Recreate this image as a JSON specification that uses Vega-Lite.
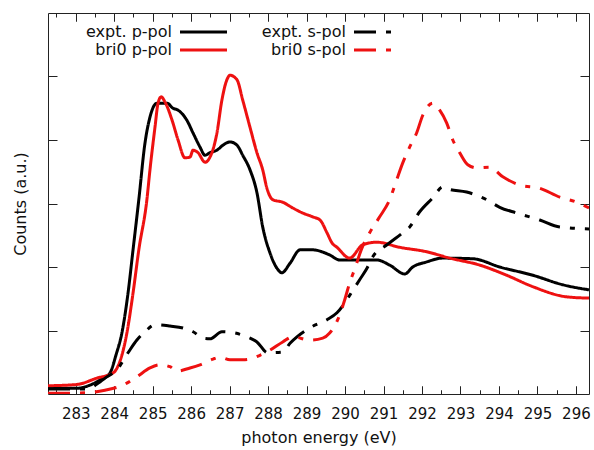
{
  "$schema": "https://vega.github.io/schema/vega-lite/v6.json",
  "width": 541,
  "height": 381,
  "autosize": {"type": "none"},
  "padding": {"left": 48, "top": 13, "right": 5, "bottom": 56},
  "config": {
    "view": {"stroke": null},
    "font": "DejaVu Sans",
    "axis": {"domainColor": "#222", "tickColor": "#222", "tickOpacity": 1, "tickWidth": 1, "labelColor": "#111", "titleColor": "#111", "grid": false, "labelFontWeight": "normal", "titleFontWeight": "normal", "zindex": 1},
    "axisX": {"ticks": true, "tickColor": "#222", "tickOpacity": 1, "tickWidth": 1},
    "axisY": {"ticks": true, "tickColor": "#222", "tickOpacity": 1, "tickWidth": 1}
  },
  "data": {"values": [
    {"series": "expt. p-pol", "energy": 282.28, "counts": 0.09},
    {"series": "expt. p-pol", "energy": 283.03, "counts": 0.09},
    {"series": "expt. p-pol", "energy": 283.37, "counts": 0.14},
    {"series": "expt. p-pol", "energy": 283.63, "counts": 0.22},
    {"series": "expt. p-pol", "energy": 283.89, "counts": 0.33},
    {"series": "expt. p-pol", "energy": 284.05, "counts": 0.62},
    {"series": "expt. p-pol", "energy": 284.2, "counts": 0.96},
    {"series": "expt. p-pol", "energy": 284.36, "counts": 1.59},
    {"series": "expt. p-pol", "energy": 284.49, "counts": 2.27},
    {"series": "expt. p-pol", "energy": 284.64, "counts": 3.06},
    {"series": "expt. p-pol", "energy": 284.8, "counts": 3.95},
    {"series": "expt. p-pol", "energy": 284.93, "counts": 4.36},
    {"series": "expt. p-pol", "energy": 285.11, "counts": 4.58},
    {"series": "expt. p-pol", "energy": 285.37, "counts": 4.58},
    {"series": "expt. p-pol", "energy": 285.53, "counts": 4.5},
    {"series": "expt. p-pol", "energy": 285.66, "counts": 4.47},
    {"series": "expt. p-pol", "energy": 285.89, "counts": 4.31},
    {"series": "expt. p-pol", "energy": 286.05, "counts": 4.11},
    {"series": "expt. p-pol", "energy": 286.23, "counts": 3.89},
    {"series": "expt. p-pol", "energy": 286.36, "counts": 3.76},
    {"series": "expt. p-pol", "energy": 286.49, "counts": 3.8},
    {"series": "expt. p-pol", "energy": 286.67, "counts": 3.84},
    {"series": "expt. p-pol", "energy": 286.83, "counts": 3.92},
    {"series": "expt. p-pol", "energy": 287.01, "counts": 3.97},
    {"series": "expt. p-pol", "energy": 287.19, "counts": 3.92},
    {"series": "expt. p-pol", "energy": 287.34, "counts": 3.76},
    {"series": "expt. p-pol", "energy": 287.53, "counts": 3.53},
    {"series": "expt. p-pol", "energy": 287.71, "counts": 3.17},
    {"series": "expt. p-pol", "energy": 287.86, "counts": 2.63},
    {"series": "expt. p-pol", "energy": 288.05, "counts": 2.22},
    {"series": "expt. p-pol", "energy": 288.23, "counts": 1.98},
    {"series": "expt. p-pol", "energy": 288.36, "counts": 1.91},
    {"series": "expt. p-pol", "energy": 288.57, "counts": 2.06},
    {"series": "expt. p-pol", "energy": 288.83, "counts": 2.27},
    {"series": "expt. p-pol", "energy": 289.16, "counts": 2.27},
    {"series": "expt. p-pol", "energy": 289.6, "counts": 2.19},
    {"series": "expt. p-pol", "energy": 289.86, "counts": 2.11},
    {"series": "expt. p-pol", "energy": 290.2, "counts": 2.11},
    {"series": "expt. p-pol", "energy": 290.83, "counts": 2.11},
    {"series": "expt. p-pol", "energy": 291.16, "counts": 2.03},
    {"series": "expt. p-pol", "energy": 291.55, "counts": 1.89},
    {"series": "expt. p-pol", "energy": 291.76, "counts": 2.0},
    {"series": "expt. p-pol", "energy": 292.12, "counts": 2.08},
    {"series": "expt. p-pol", "energy": 292.54, "counts": 2.14},
    {"series": "expt. p-pol", "energy": 293.32, "counts": 2.13},
    {"series": "expt. p-pol", "energy": 294.02, "counts": 2.0},
    {"series": "expt. p-pol", "energy": 294.88, "counts": 1.87},
    {"series": "expt. p-pol", "energy": 295.66, "counts": 1.72},
    {"series": "expt. p-pol", "energy": 296.34, "counts": 1.64},

    {"series": "bri0 p-pol", "energy": 282.28, "counts": 0.13},
    {"series": "bri0 p-pol", "energy": 283.03, "counts": 0.15},
    {"series": "bri0 p-pol", "energy": 283.55, "counts": 0.25},
    {"series": "bri0 p-pol", "energy": 283.97, "counts": 0.33},
    {"series": "bri0 p-pol", "energy": 284.33, "counts": 0.96},
    {"series": "bri0 p-pol", "energy": 284.49, "counts": 1.59},
    {"series": "bri0 p-pol", "energy": 284.64, "counts": 2.27},
    {"series": "bri0 p-pol", "energy": 284.85, "counts": 3.06},
    {"series": "bri0 p-pol", "energy": 284.93, "counts": 3.53},
    {"series": "bri0 p-pol", "energy": 285.06, "counts": 4.2},
    {"series": "bri0 p-pol", "energy": 285.14, "counts": 4.58},
    {"series": "bri0 p-pol", "energy": 285.22, "counts": 4.68},
    {"series": "bri0 p-pol", "energy": 285.32, "counts": 4.6},
    {"series": "bri0 p-pol", "energy": 285.5, "counts": 4.32},
    {"series": "bri0 p-pol", "energy": 285.66, "counts": 4.0},
    {"series": "bri0 p-pol", "energy": 285.84, "counts": 3.72},
    {"series": "bri0 p-pol", "energy": 285.97, "counts": 3.73},
    {"series": "bri0 p-pol", "energy": 286.05, "counts": 3.84},
    {"series": "bri0 p-pol", "energy": 286.18, "counts": 3.8},
    {"series": "bri0 p-pol", "energy": 286.36, "counts": 3.65},
    {"series": "bri0 p-pol", "energy": 286.49, "counts": 3.73},
    {"series": "bri0 p-pol", "energy": 286.67, "counts": 4.11},
    {"series": "bri0 p-pol", "energy": 286.8, "counts": 4.63},
    {"series": "bri0 p-pol", "energy": 286.93, "counts": 4.95},
    {"series": "bri0 p-pol", "energy": 287.01, "counts": 5.02},
    {"series": "bri0 p-pol", "energy": 287.19, "counts": 4.95},
    {"series": "bri0 p-pol", "energy": 287.34, "counts": 4.63},
    {"series": "bri0 p-pol", "energy": 287.53, "counts": 4.2},
    {"series": "bri0 p-pol", "energy": 287.71, "counts": 3.8},
    {"series": "bri0 p-pol", "energy": 287.86, "counts": 3.53},
    {"series": "bri0 p-pol", "energy": 287.97, "counts": 3.24},
    {"series": "bri0 p-pol", "energy": 288.12, "counts": 3.06},
    {"series": "bri0 p-pol", "energy": 288.38, "counts": 3.02},
    {"series": "bri0 p-pol", "energy": 288.64, "counts": 2.93},
    {"series": "bri0 p-pol", "energy": 288.9, "counts": 2.85},
    {"series": "bri0 p-pol", "energy": 289.16, "counts": 2.79},
    {"series": "bri0 p-pol", "energy": 289.35, "counts": 2.74},
    {"series": "bri0 p-pol", "energy": 289.53, "counts": 2.54},
    {"series": "bri0 p-pol", "energy": 289.66, "counts": 2.38},
    {"series": "bri0 p-pol", "energy": 289.79, "counts": 2.31},
    {"series": "bri0 p-pol", "energy": 290.12, "counts": 2.14},
    {"series": "bri0 p-pol", "energy": 290.46, "counts": 2.35},
    {"series": "bri0 p-pol", "energy": 290.83, "counts": 2.39},
    {"series": "bri0 p-pol", "energy": 291.42, "counts": 2.31},
    {"series": "bri0 p-pol", "energy": 292.12, "counts": 2.24},
    {"series": "bri0 p-pol", "energy": 292.72, "counts": 2.14},
    {"series": "bri0 p-pol", "energy": 293.5, "counts": 2.03},
    {"series": "bri0 p-pol", "energy": 294.2, "counts": 1.87},
    {"series": "bri0 p-pol", "energy": 294.88, "counts": 1.69},
    {"series": "bri0 p-pol", "energy": 295.76, "counts": 1.53},
    {"series": "bri0 p-pol", "energy": 296.34, "counts": 1.51},

    {"series": "expt. s-pol", "energy": 282.28, "counts": 0.08},
    {"series": "expt. s-pol", "energy": 283.3, "counts": 0.08},
    {"series": "expt. s-pol", "energy": 283.63, "counts": 0.19},
    {"series": "expt. s-pol", "energy": 283.81, "counts": 0.27},
    {"series": "expt. s-pol", "energy": 284.07, "counts": 0.38},
    {"series": "expt. s-pol", "energy": 284.36, "counts": 0.65},
    {"series": "expt. s-pol", "energy": 284.59, "counts": 0.85},
    {"series": "expt. s-pol", "energy": 284.8, "counts": 0.98},
    {"series": "expt. s-pol", "energy": 285.06, "counts": 1.09},
    {"series": "expt. s-pol", "energy": 285.45, "counts": 1.07},
    {"series": "expt. s-pol", "energy": 285.79, "counts": 1.04},
    {"series": "expt. s-pol", "energy": 286.05, "counts": 0.98},
    {"series": "expt. s-pol", "energy": 286.31, "counts": 0.88},
    {"series": "expt. s-pol", "energy": 286.49, "counts": 0.87},
    {"series": "expt. s-pol", "energy": 286.8, "counts": 0.98},
    {"series": "expt. s-pol", "energy": 287.14, "counts": 0.96},
    {"series": "expt. s-pol", "energy": 287.45, "counts": 0.9},
    {"series": "expt. s-pol", "energy": 287.71, "counts": 0.82},
    {"series": "expt. s-pol", "energy": 287.99, "counts": 0.65},
    {"series": "expt. s-pol", "energy": 288.38, "counts": 0.66},
    {"series": "expt. s-pol", "energy": 288.57, "counts": 0.8},
    {"series": "expt. s-pol", "energy": 288.75, "counts": 0.9},
    {"series": "expt. s-pol", "energy": 289.14, "counts": 1.06},
    {"series": "expt. s-pol", "energy": 289.53, "counts": 1.17},
    {"series": "expt. s-pol", "energy": 289.79, "counts": 1.28},
    {"series": "expt. s-pol", "energy": 290.18, "counts": 1.61},
    {"series": "expt. s-pol", "energy": 290.38, "counts": 1.8},
    {"series": "expt. s-pol", "energy": 290.57, "counts": 1.98},
    {"series": "expt. s-pol", "energy": 290.72, "counts": 2.16},
    {"series": "expt. s-pol", "energy": 291.09, "counts": 2.35},
    {"series": "expt. s-pol", "energy": 291.5, "counts": 2.54},
    {"series": "expt. s-pol", "energy": 291.68, "counts": 2.63},
    {"series": "expt. s-pol", "energy": 291.94, "counts": 2.87},
    {"series": "expt. s-pol", "energy": 292.28, "counts": 3.09},
    {"series": "expt. s-pol", "energy": 292.54, "counts": 3.26},
    {"series": "expt. s-pol", "energy": 292.67, "counts": 3.23},
    {"series": "expt. s-pol", "energy": 293.16, "counts": 3.18},
    {"series": "expt. s-pol", "energy": 293.68, "counts": 3.06},
    {"series": "expt. s-pol", "energy": 294.02, "counts": 2.94},
    {"series": "expt. s-pol", "energy": 294.46, "counts": 2.85},
    {"series": "expt. s-pol", "energy": 295.06, "counts": 2.74},
    {"series": "expt. s-pol", "energy": 295.58, "counts": 2.63},
    {"series": "expt. s-pol", "energy": 296.34, "counts": 2.6},

    {"series": "bri0 s-pol", "energy": 282.28, "counts": 0.01},
    {"series": "bri0 s-pol", "energy": 283.3, "counts": 0.02},
    {"series": "bri0 s-pol", "energy": 283.76, "counts": 0.06},
    {"series": "bri0 s-pol", "energy": 284.23, "counts": 0.14},
    {"series": "bri0 s-pol", "energy": 284.59, "counts": 0.27},
    {"series": "bri0 s-pol", "energy": 284.93, "counts": 0.41},
    {"series": "bri0 s-pol", "energy": 285.19, "counts": 0.46},
    {"series": "bri0 s-pol", "energy": 285.45, "counts": 0.43},
    {"series": "bri0 s-pol", "energy": 285.63, "counts": 0.36},
    {"series": "bri0 s-pol", "energy": 285.97, "counts": 0.41},
    {"series": "bri0 s-pol", "energy": 286.23, "counts": 0.46},
    {"series": "bri0 s-pol", "energy": 286.57, "counts": 0.55},
    {"series": "bri0 s-pol", "energy": 286.75, "counts": 0.58},
    {"series": "bri0 s-pol", "energy": 287.01, "counts": 0.54},
    {"series": "bri0 s-pol", "energy": 287.4, "counts": 0.54},
    {"series": "bri0 s-pol", "energy": 287.79, "counts": 0.61},
    {"series": "bri0 s-pol", "energy": 288.05, "counts": 0.69},
    {"series": "bri0 s-pol", "energy": 288.38, "counts": 0.82},
    {"series": "bri0 s-pol", "energy": 288.64, "counts": 0.9},
    {"series": "bri0 s-pol", "energy": 289.09, "counts": 0.85},
    {"series": "bri0 s-pol", "energy": 289.42, "counts": 0.88},
    {"series": "bri0 s-pol", "energy": 289.6, "counts": 0.96},
    {"series": "bri0 s-pol", "energy": 289.81, "counts": 1.17},
    {"series": "bri0 s-pol", "energy": 289.99, "counts": 1.48},
    {"series": "bri0 s-pol", "energy": 290.12, "counts": 1.75},
    {"series": "bri0 s-pol", "energy": 290.27, "counts": 2.0},
    {"series": "bri0 s-pol", "energy": 290.42, "counts": 2.27},
    {"series": "bri0 s-pol", "energy": 290.64, "counts": 2.54},
    {"series": "bri0 s-pol", "energy": 290.9, "counts": 2.79},
    {"series": "bri0 s-pol", "energy": 291.16, "counts": 3.06},
    {"series": "bri0 s-pol", "energy": 291.34, "counts": 3.37},
    {"series": "bri0 s-pol", "energy": 291.5, "counts": 3.64},
    {"series": "bri0 s-pol", "energy": 291.68, "counts": 3.89},
    {"series": "bri0 s-pol", "energy": 291.86, "counts": 4.11},
    {"series": "bri0 s-pol", "energy": 292.02, "counts": 4.39},
    {"series": "bri0 s-pol", "energy": 292.28, "counts": 4.58},
    {"series": "bri0 s-pol", "energy": 292.46, "counts": 4.47},
    {"series": "bri0 s-pol", "energy": 292.64, "counts": 4.27},
    {"series": "bri0 s-pol", "energy": 292.8, "counts": 4.0},
    {"series": "bri0 s-pol", "energy": 292.98, "counts": 3.8},
    {"series": "bri0 s-pol", "energy": 293.19, "counts": 3.61},
    {"series": "bri0 s-pol", "energy": 293.42, "counts": 3.56},
    {"series": "bri0 s-pol", "energy": 293.76, "counts": 3.57},
    {"series": "bri0 s-pol", "energy": 294.1, "counts": 3.42},
    {"series": "bri0 s-pol", "energy": 294.54, "counts": 3.29},
    {"series": "bri0 s-pol", "energy": 295.06, "counts": 3.24},
    {"series": "bri0 s-pol", "energy": 295.58, "counts": 3.1},
    {"series": "bri0 s-pol", "energy": 296.02, "counts": 3.02},
    {"series": "bri0 s-pol", "energy": 296.34, "counts": 2.93}
  ]},
  "layer": [
    {
      "mark": {"type": "line", "strokeWidth": 3, "interpolate": "monotone", "clip": true},
      "encoding": {
        "x": {
          "field": "energy", "type": "quantitative",
          "scale": {"domain": [282.28, 296.34], "nice": false, "zero": false},
          "axis": {
            "orient": "bottom",
            "title": "photon energy (eV)",
            "titleFontSize": 16, "titlePadding": 8,
            "values": [283, 284, 285, 286, 287, 288, 289, 290, 291, 292, 293, 294, 295, 296],
            "format": "d",
            "ticks": true, "tickSize": -8, "tickColor": "#222", "tickOpacity": 1, "tickWidth": 1,
            "grid": true, "gridColor": "#222", "gridOpacity": 1, "gridWidth": 1, "gridDash": [8, 365, 8, 40],
            "labelFontSize": 15, "labelPadding": 20, "labelFlush": false, "labelOverlap": false
          }
        },
        "y": {
          "field": "counts", "type": "quantitative",
          "scale": {"domain": [0, 6], "nice": false, "zero": false},
          "axis": {
            "orient": "left",
            "title": "Counts (a.u.)",
            "titleFontSize": 16, "titlePadding": 19,
            "values": [1, 2, 3, 4, 5],
            "ticks": true, "tickSize": -9, "labels": false
          }
        },
        "color": {
          "field": "series", "type": "nominal",
          "scale": {"domain": ["expt. p-pol", "expt. s-pol", "bri0 p-pol", "bri0 s-pol"], "range": ["#000000", "#000000", "#ee1111", "#ee1111"]},
          "legend": {
            "title": null, "orient": "none", "legendX": 147.5, "legendY": 11,
            "columns": 2, "direction": "horizontal",
            "symbolType": "M-3.9167,0H3.9167", "symbolSize": 144, "symbolStrokeWidth": 3,
            "labelAlign": "right", "labelOffset": -39.5, "labelFontSize": 16, "labelColor": "#111",
            "columnPadding": 28, "rowPadding": 2
          }
        },
        "strokeDash": {
          "field": "series", "type": "nominal",
          "scale": {"domain": ["expt. p-pol", "expt. s-pol", "bri0 p-pol", "bri0 s-pol"], "range": [[1, 0], [22, 10, 5, 10], [1, 0], [22, 10, 5, 10]]},
          "legend": {
            "title": null, "orient": "none", "legendX": 147.5, "legendY": 11,
            "columns": 2, "direction": "horizontal",
            "symbolType": "M-3.9167,0H3.9167", "symbolSize": 144, "symbolStrokeWidth": 3,
            "labelAlign": "right", "labelOffset": -39.5, "labelFontSize": 16, "labelColor": "#111",
            "columnPadding": 28, "rowPadding": 2
          }
        }
      }
    },
    {
      "mark": {"type": "point", "opacity": 0},
      "encoding": {
        "x": {
          "field": "energy", "type": "quantitative",
          "axis": {
            "orient": "top", "title": null, "labels": false,
            "values": [283, 284, 285, 286, 287, 288, 289, 290, 291, 292, 293, 294, 295, 296],
            "ticks": true, "tickSize": -8, "tickColor": "#222", "tickOpacity": 1, "tickWidth": 1
          }
        },
        "y": {
          "field": "counts", "type": "quantitative",
          "axis": {"orient": "right", "title": null, "labels": false, "values": [1, 2, 3, 4, 5], "ticks": true, "tickSize": -9}
        }
      }
    },
    {
      "mark": {"type": "point", "opacity": 0},
      "encoding": {
        "x": {
          "field": "energy", "type": "quantitative",
          "axis": {
            "orient": "bottom", "title": null, "labels": false, "domain": false,
            "values": [282.5, 283.5, 284.5, 285.5, 286.5, 287.5, 288.5, 289.5, 290.5, 291.5, 292.5, 293.5, 294.5, 295.5],
            "ticks": true, "tickSize": -4, "tickColor": "#222", "tickOpacity": 1, "tickWidth": 1,
            "grid": true, "gridColor": "#222", "gridOpacity": 1, "gridWidth": 1, "gridDash": [4, 373, 4, 40]
          }
        }
      }
    }
  ],
  "resolve": {"axis": {"x": "independent", "y": "independent"}}
}
